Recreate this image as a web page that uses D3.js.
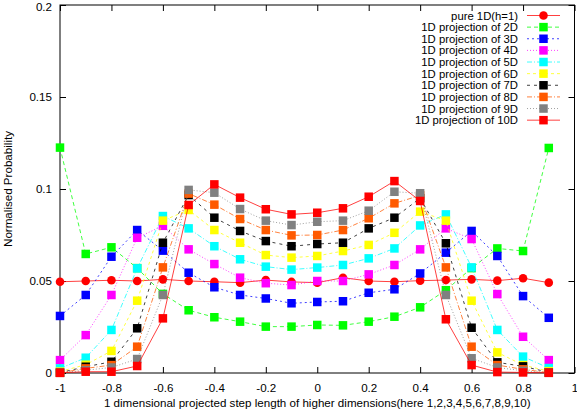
<!DOCTYPE html>
<html lang="en">
  <head>
    <meta charset="UTF-8" />
    <title>Normalised Probability</title>
    <script src="https://cdn.jsdelivr.net/npm/d3@7.6.1/dist/d3.min.js"></script>
    <style>
      body { margin: 0; background: #fff; }
      svg { display: block; font-family: 'Liberation Sans', Arial, sans-serif; }
    </style>
  </head>
  <body>
    <div id="box"></div>
    <script>
      const width = 577;
      const height = 409;

      // x positions of the points
      const steps = [-1, -0.9, -0.8, -0.7, -0.6, -0.5, -0.4, -0.3, -0.2, -0.1,
        0, 0.1, 0.2, 0.3, 0.4, 0.5, 0.6, 0.7, 0.8, 0.9];

      const names = ['pure 1D(h=1)', '1D projection of 2D', '1D projection of 3D', '1D projection of 4D',
        '1D projection of 5D', '1D projection of 6D', '1D projection of 7D', '1D projection of 8D',
        '1D projection of 9D', '1D projection of 10D'];

      const pure1D = [0.0496, 0.050, 0.0504, 0.050, 0.0509, 0.050, 0.0496, 0.0491, 0.0505, 0.0495,
        0.0491, 0.0518, 0.050, 0.0496, 0.0502, 0.0505, 0.0509, 0.0502, 0.0515, 0.0491];
      const proj2D = [0.1225, 0.0647, 0.0683, 0.057, 0.043, 0.0341, 0.0303, 0.0279, 0.0252, 0.0252,
        0.0261, 0.0259, 0.0279, 0.0306, 0.0357, 0.045, 0.057, 0.0677, 0.0663, 0.1223];
      const proj3D = [0.031, 0.0424, 0.0632, 0.0777, 0.0665, 0.0545, 0.0466, 0.0424, 0.0405, 0.0379,
        0.0386, 0.039, 0.0436, 0.0455, 0.0541, 0.0654, 0.0772, 0.0636, 0.0418, 0.030];
      const proj4D = [0.007, 0.0206, 0.0424, 0.0735, 0.080, 0.0672, 0.0592, 0.0518, 0.0488, 0.0478,
        0.050, 0.050, 0.0536, 0.0587, 0.0672, 0.0786, 0.0728, 0.0429, 0.0197, 0.007];
      const proj5D = [0.0025, 0.0083, 0.0234, 0.0569, 0.0853, 0.0786, 0.0689, 0.0618, 0.0578, 0.0562,
        0.0573, 0.0587, 0.0623, 0.0677, 0.0802, 0.0862, 0.0574, 0.0234, 0.0089, 0.0027];
      const proj6D = [0.0008, 0.0045, 0.012, 0.0393, 0.0828, 0.0886, 0.0777, 0.0708, 0.0641, 0.0627,
        0.0636, 0.0663, 0.0696, 0.0762, 0.0877, 0.0828, 0.0393, 0.0112, 0.0043, 0.001];
      const proj7D = [0.0002, 0.0034, 0.0061, 0.0243, 0.0708, 0.0967, 0.0844, 0.0772, 0.0717, 0.0689,
        0.0701, 0.0708, 0.0786, 0.0844, 0.095, 0.0705, 0.0246, 0.0058, 0.0036, 0.0004];
      const proj8D = [0.0001, 0.0025, 0.0043, 0.0143, 0.0574, 0.0975, 0.0915, 0.0837, 0.0777, 0.0748,
        0.075, 0.0777, 0.0841, 0.0922, 0.0965, 0.0574, 0.0143, 0.0043, 0.002, 0.0002];
      const proj9D = [0.0001, 0.0015, 0.003, 0.0076, 0.0424, 0.0995, 0.098, 0.0891, 0.0828, 0.0804,
        0.0822, 0.0828, 0.0882, 0.0985, 0.0977, 0.0424, 0.008, 0.003, 0.0012, 0.0001];
      const proj10D = [0.0001, 0.0007, 0.0007, 0.0038, 0.0297, 0.0913, 0.1025, 0.0953, 0.089, 0.0862,
        0.0871, 0.0895, 0.0958, 0.1043, 0.0935, 0.0292, 0.0043, 0.0005, 0.0003, 0.0001];

      const xTicks = [-1, -0.8, -0.6, -0.4, -0.2, 0, 0.2, 0.4, 0.6, 0.8, 1];
      const yTicks = [0, 0.05, 0.1, 0.15, 0.2];

      const allValues = [pure1D, proj2D, proj3D, proj4D, proj5D, proj6D, proj7D, proj8D, proj9D, proj10D];
      const colors = ['#ff0000', '#00ff00', '#0000ff', '#ff00ff', '#00ffff', '#ffff00',
        '#000000', '#ff5a00', '#808080', '#ff0000'];
      const dashes = [null, '4,3', '2,3', '1,2', '5,2,1,2', '3,3', '3,4', '5,2,1,2', '1,2', null];

      const margin = {left: 60, right: 2.5, top: 5, bottom: 36};
      const fontSize = 11.6;

      const svg = d3.select('#box').append('svg').attr('width', width).attr('height', height);

      const xScale = d3.scaleLinear().domain([-1, 1]).range([margin.left, width - margin.right]);
      const yScale = d3.scaleLinear().domain([0, 0.2]).range([height - margin.bottom, margin.top]);

      // 坐标轴 (gnuplot 风格: 刻度朝内, 四边都有)
      const fmt = d => String(d);
      svg.append('g')
        .attr('transform', `translate(0,${yScale(0)})`)
        .call(d3.axisBottom(xScale).tickValues(xTicks).tickFormat(fmt).tickSize(-6).tickPadding(11));
      const yAxis = svg.append('g')
        .attr('transform', `translate(${xScale(-1)},0)`)
        .call(d3.axisLeft(yScale).tickValues(yTicks).tickFormat(fmt).tickSize(-6).tickPadding(8));
      svg.append('g')
        .attr('transform', `translate(0,${yScale(0.2)})`)
        .call(d3.axisTop(xScale).tickValues(xTicks).tickFormat('').tickSize(-6));
      svg.append('g')
        .attr('transform', `translate(${xScale(1)},0)`)
        .call(d3.axisRight(yScale).tickValues(yTicks).tickFormat('').tickSize(-6));
      svg.selectAll('.domain').remove();
      svg.selectAll('.tick line').attr('stroke', '#000');
      svg.selectAll('.tick text').attr('font-size', fontSize).attr('fill', '#000')
        .attr('font-family', "'Liberation Sans', Arial, sans-serif");
      // 顶部标签不要贴边被裁
      yAxis.selectAll('.tick text').filter(d => d === 0.2).attr('dy', '0.45em');

      svg.append('rect')
        .attr('x', xScale(-1)).attr('y', yScale(0.2))
        .attr('width', xScale(1) - xScale(-1)).attr('height', yScale(0) - yScale(0.2))
        .attr('fill', 'none').attr('stroke', '#000');

      // 轴标题
      svg.append('text')
        .attr('x', (xScale(-1) + xScale(1)) / 2).attr('y', 406.5)
        .attr('text-anchor', 'middle').attr('font-size', fontSize)
        .text('1 dimensional projected step length of higher dimensions(here 1,2,3,4,5,6,7,8,9,10)');
      svg.append('text')
        .attr('transform', `translate(12,${(yScale(0) + yScale(0.2)) / 2}) rotate(-90)`)
        .attr('text-anchor', 'middle').attr('font-size', fontSize)
        .text('Normalised Probability');

      const line = d3.line().x((d, i) => xScale(steps[i])).y(d => yScale(d));

      function marker(sel, k, size) {
        if (k === 0) {
          sel.append('circle').attr('r', 4.3).attr('fill', colors[k]);
        } else {
          sel.append('rect').attr('x', -size / 2).attr('y', -size / 2)
            .attr('width', size).attr('height', size).attr('fill', colors[k]);
        }
      }

      allValues.forEach((vals, k) => {
        const g = svg.append('g');
        g.append('path').datum(vals)
          .attr('d', line)
          .attr('fill', 'none')
          .attr('stroke', colors[k])
          .attr('stroke-opacity', 0.75)
          .attr('stroke-dasharray', dashes[k]);
        g.selectAll('.pt').data(vals).enter().append('g')
          .attr('transform', (d, i) => `translate(${xScale(steps[i])},${yScale(d)})`)
          .each(function () { marker(d3.select(this), k, 8.5); });
      });

      // 图例
      const legend = svg.append('g');
      names.forEach((name, k) => {
        const y = 15.5 + k * 11.63;
        legend.append('text')
          .attr('x', 518).attr('y', y + 4)
          .attr('text-anchor', 'end').attr('font-size', 11.3)
          .text(name);
        legend.append('line')
          .attr('x1', 527).attr('x2', 560).attr('y1', y).attr('y2', y)
          .attr('stroke', colors[k]).attr('stroke-opacity', 0.75)
          .attr('stroke-dasharray', dashes[k]);
        const m = legend.append('g').attr('transform', `translate(543.5,${y})`);
        marker(m, k, 8.5);
      });
    </script>
  </body>
</html>
